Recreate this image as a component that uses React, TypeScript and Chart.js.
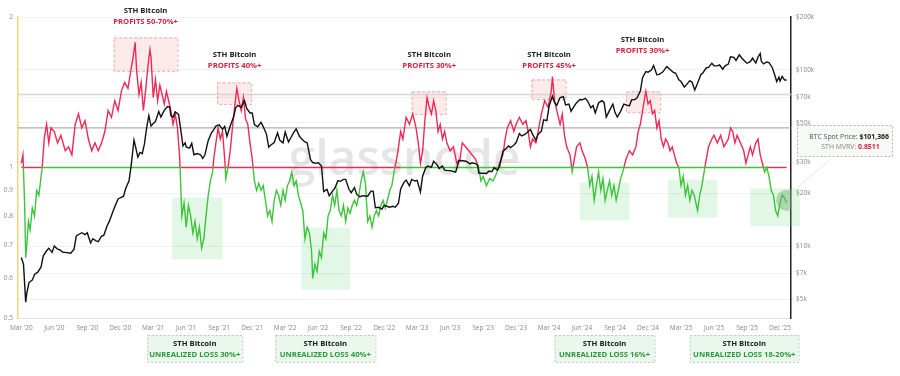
import React, { useEffect, useRef } from "react";
import { Chart, registerables } from "chart.js";
Chart.register(...registerables);

// x = months since 1 Mar 2020
const X_TICK_MONTHS = [0, 3, 6, 9, 12, 15, 18, 21, 24, 27, 30, 33, 36, 39, 42, 45, 48, 51, 54, 57, 60, 63, 66, 69];
const X_TICK_LABELS = ["Mar '20", "Jun '20", "Sep '20", "Dec '20", "Mar '21", "Jun '21", "Sep '21", "Dec '21", "Mar '22", "Jun '22", "Sep '22", "Dec '22", "Mar '23", "Jun '23", "Sep '23", "Dec '23", "Mar '24", "Jun '24", "Sep '24", "Dec '24", "Mar '25", "Jun '25", "Sep '25", "Dec '25"];
const MVRV_TICKS = [0.5, 0.6, 0.7, 0.8, 0.9, 1, 2];
const MVRV_TICK_LABELS = ["0.5", "0.6", "0.7", "0.8", "0.9", "1", "2"];
const PRICE_TICKS = [5000, 7000, 10000, 20000, 30000, 50000, 70000, 100000, 200000];
const PRICE_TICK_LABELS = ["$5k", "$7k", "$10k", "$20k", "$30k", "$50k", "$70k", "$100k", "$200k"];

// STH MVRV [month, value]
const MVRV: [number, number][] = [
  [0, 1.02], [0.15, 1.06], [0.3, 0.85], [0.4, 0.66], [0.5, 0.7], [0.65, 0.78], [0.8, 0.75], [1.0, 0.83], [1.2, 0.8], [1.4, 0.9], [1.6, 0.88], [1.8, 0.96], [1.9, 1.0],
  [2.1, 1.15], [2.3, 1.22], [2.5, 1.12], [2.7, 1.2], [3.0, 1.18], [3.3, 1.12], [3.6, 1.16], [4.0, 1.08], [4.3, 1.1], [4.6, 1.06], [4.9, 1.22], [5.2, 1.28], [5.5, 1.2], [5.8, 1.24],
  [6.1, 1.14], [6.4, 1.08], [6.7, 1.12], [7.0, 1.08], [7.3, 1.12], [7.6, 1.18], [7.9, 1.3], [8.2, 1.26], [8.5, 1.36], [8.8, 1.3], [9.1, 1.42], [9.4, 1.48], [9.7, 1.44],
  [10.0, 1.58], [10.2, 1.68], [10.35, 1.78], [10.5, 1.55], [10.7, 1.4], [10.9, 1.48], [11.1, 1.3], [11.3, 1.42], [11.5, 1.58], [11.7, 1.72], [11.8, 1.66], [12.0, 1.38],
  [12.2, 1.5], [12.4, 1.36], [12.6, 1.46], [12.8, 1.4], [13.0, 1.34], [13.2, 1.42], [13.4, 1.36], [13.6, 1.3], [13.8, 1.22], [14.0, 1.28], [14.2, 1.2], [14.4, 1.05],
  [14.5, 0.92], [14.6, 0.8], [14.8, 0.85], [15.0, 0.76], [15.2, 0.84], [15.4, 0.8], [15.6, 0.74], [15.8, 0.78], [16.0, 0.72], [16.2, 0.76], [16.4, 0.69], [16.6, 0.72],
  [16.8, 0.8], [17.0, 0.88], [17.2, 0.94], [17.4, 0.98], [17.5, 1.04], [17.7, 1.12], [17.9, 1.2], [18.1, 1.14], [18.3, 1.18], [18.5, 1.04], [18.6, 0.95], [18.8, 1.0],
  [19.0, 1.08], [19.2, 1.2], [19.4, 1.32], [19.6, 1.44], [19.8, 1.36], [20.0, 1.3], [20.2, 1.38], [20.4, 1.25], [20.6, 1.22], [20.8, 1.12], [21.0, 1.04], [21.2, 0.94],
  [21.4, 0.9], [21.6, 0.93], [21.8, 0.9], [22.0, 0.92], [22.2, 0.86], [22.4, 0.8], [22.6, 0.82], [22.8, 0.78], [23.0, 0.86], [23.2, 0.9], [23.4, 0.88], [23.6, 0.84],
  [23.8, 0.9], [24.0, 0.86], [24.2, 0.92], [24.4, 0.94], [24.6, 0.98], [24.8, 0.92], [25.0, 0.94], [25.2, 0.88], [25.4, 0.85], [25.6, 0.82], [25.8, 0.72], [26.0, 0.76],
  [26.2, 0.74], [26.4, 0.68], [26.5, 0.6], [26.7, 0.64], [26.9, 0.62], [27.1, 0.68], [27.3, 0.66], [27.5, 0.74], [27.7, 0.72], [27.9, 0.8], [28.1, 0.82], [28.3, 0.88],
  [28.5, 0.84], [28.7, 0.9], [28.9, 0.82], [29.1, 0.8], [29.3, 0.84], [29.5, 0.78], [29.7, 0.83], [29.9, 0.81], [30.1, 0.84], [30.3, 0.86], [30.5, 0.84], [30.7, 0.88],
  [30.9, 0.94], [31.1, 0.98], [31.3, 0.93], [31.5, 0.78], [31.7, 0.8], [31.9, 0.76], [32.1, 0.8], [32.3, 0.82], [32.5, 0.8], [32.7, 0.84], [32.9, 0.86], [33.1, 0.83],
  [33.3, 0.86], [33.5, 0.9], [33.7, 0.92], [33.9, 0.98], [34.2, 1.06], [34.5, 1.18], [34.7, 1.14], [35.0, 1.26], [35.3, 1.22], [35.6, 1.28], [35.9, 1.2], [36.1, 1.12],
  [36.3, 1.02], [36.5, 1.08], [36.7, 1.24], [36.9, 1.38], [37.1, 1.32], [37.3, 1.28], [37.5, 1.36], [37.7, 1.3], [37.9, 1.18], [38.1, 1.22], [38.3, 1.14], [38.5, 1.18],
  [38.7, 1.12], [39.0, 1.08], [39.3, 1.1], [39.6, 1.02], [39.9, 1.04], [40.1, 1.12], [40.4, 1.1], [40.7, 1.08], [41.0, 1.06], [41.3, 1.04], [41.6, 1.0], [41.8, 0.94],
  [42.0, 0.96], [42.3, 0.92], [42.6, 0.95], [42.9, 0.94], [43.2, 0.97], [43.5, 1.02], [43.8, 1.06], [44.0, 1.14], [44.2, 1.2], [44.5, 1.24], [44.8, 1.18], [45.0, 1.22],
  [45.3, 1.26], [45.6, 1.22], [45.9, 1.24], [46.1, 1.18], [46.3, 1.1], [46.5, 1.14], [46.8, 1.12], [47.0, 1.18], [47.3, 1.28], [47.6, 1.36], [47.9, 1.32], [48.2, 1.42],
  [48.3, 1.52], [48.5, 1.36], [48.7, 1.3], [49.0, 1.22], [49.2, 1.28], [49.4, 1.16], [49.6, 1.1], [49.9, 1.06], [50.1, 0.98], [50.3, 1.04], [50.5, 1.1], [50.8, 1.12],
  [51.0, 1.08], [51.3, 1.04], [51.5, 1.0], [51.7, 0.92], [51.9, 0.96], [52.1, 0.86], [52.3, 0.92], [52.5, 0.98], [52.7, 0.9], [52.9, 0.95], [53.1, 0.86], [53.3, 0.9],
  [53.5, 0.94], [53.7, 0.88], [53.9, 0.92], [54.1, 0.86], [54.3, 0.9], [54.5, 0.95], [54.7, 0.98], [55.0, 1.04], [55.3, 1.08], [55.6, 1.06], [55.9, 1.1], [56.1, 1.18],
  [56.3, 1.22], [56.5, 1.3], [56.7, 1.38], [56.8, 1.42], [57.0, 1.34], [57.2, 1.36], [57.4, 1.28], [57.6, 1.3], [57.8, 1.2], [58.0, 1.24], [58.2, 1.14], [58.4, 1.1],
  [58.6, 1.14], [58.8, 1.12], [59.0, 1.08], [59.2, 1.1], [59.4, 1.06], [59.6, 1.02], [59.8, 1.0], [60.0, 0.92], [60.2, 0.96], [60.4, 0.88], [60.6, 0.92], [60.8, 0.86],
  [61.0, 0.9], [61.2, 0.88], [61.5, 0.82], [61.7, 0.88], [61.9, 0.92], [62.1, 0.98], [62.3, 1.04], [62.5, 1.1], [62.8, 1.14], [63.0, 1.16], [63.3, 1.12], [63.6, 1.16],
  [63.9, 1.1], [64.1, 1.12], [64.3, 1.14], [64.5, 1.2], [64.7, 1.18], [64.9, 1.12], [65.1, 1.16], [65.4, 1.12], [65.7, 1.08], [65.9, 1.02], [66.1, 1.06], [66.3, 1.1],
  [66.5, 1.06], [66.8, 1.12], [67.0, 1.14], [67.2, 1.06], [67.4, 1.02], [67.6, 0.98], [67.8, 1.0], [68.0, 0.96], [68.2, 0.9], [68.4, 0.88], [68.6, 0.82], [68.8, 0.8],
  [69.0, 0.85], [69.2, 0.88], [69.4, 0.87], [69.6, 0.85],
];

// BTC price [month, $k]
const PRICE: [number, number][] = [
  [0, 8.6], [0.2, 7.9], [0.4, 4.8], [0.5, 5.4], [0.7, 6.2], [1, 6.4], [1.2, 6.9], [1.5, 7.1], [1.8, 7.6], [2, 8.8], [2.3, 9.4], [2.5, 9.7], [2.8, 9.2], [3, 10.0],
  [3.3, 9.6], [3.5, 9.5], [3.8, 9.2], [4, 9.2], [4.5, 9.1], [4.8, 9.6], [5, 11.4], [5.3, 11.7], [5.5, 11.9], [5.8, 11.6], [6, 11.9], [6.3, 10.4], [6.5, 11.0],
  [6.8, 10.7], [7, 10.6], [7.3, 11.4], [7.5, 11.5], [7.8, 13.0], [8, 13.8], [8.3, 15.5], [8.5, 16.7], [8.8, 18.5], [9, 18.8], [9.3, 19.2], [9.5, 21.3], [9.8, 23.5],
  [10, 29.0], [10.25, 40.0], [10.4, 36.5], [10.6, 32.0], [10.8, 34.0], [11, 33.5], [11.2, 38.0], [11.4, 47.0], [11.6, 55.0], [11.8, 48.0], [12, 49.6], [12.2, 51.0],
  [12.5, 58.0], [12.7, 54.0], [13, 59.0], [13.3, 62.0], [13.5, 61.5], [13.6, 55.0], [13.8, 54.0], [14, 57.8], [14.3, 56.0], [14.5, 46.0], [14.7, 37.0], [14.9, 38.5],
  [15, 36.5], [15.3, 36.0], [15.5, 38.3], [15.7, 33.0], [16, 33.5], [16.3, 33.0], [16.5, 31.5], [16.7, 33.0], [17, 39.8], [17.3, 44.0], [17.5, 45.9], [17.7, 48.0],
  [18, 48.8], [18.3, 46.0], [18.5, 47.8], [18.7, 42.0], [19, 48.1], [19.3, 54.0], [19.5, 60.9], [19.7, 63.0], [20, 61.3], [20.3, 67.0], [20.5, 60.4], [20.8, 57.0],
  [21, 57.0], [21.2, 49.0], [21.5, 47.6], [21.8, 50.5], [22, 47.7], [22.3, 43.1], [22.5, 36.5], [22.7, 37.5], [23, 38.7], [23.3, 44.0], [23.5, 40.0], [23.8, 38.5],
  [24, 44.4], [24.3, 39.0], [24.5, 41.1], [24.8, 44.5], [25, 46.3], [25.3, 42.0], [25.5, 40.5], [25.8, 39.0], [26, 38.5], [26.3, 31.0], [26.5, 29.8], [26.8, 29.5],
  [27, 29.8], [27.3, 28.5], [27.5, 20.4], [27.8, 21.0], [28, 19.3], [28.3, 20.5], [28.5, 21.2], [28.8, 23.5], [29, 23.3], [29.3, 23.9], [29.5, 23.9], [29.8, 21.0],
  [30, 20.1], [30.3, 21.5], [30.5, 19.7], [30.8, 19.0], [31, 19.3], [31.5, 19.2], [31.8, 20.5], [32, 20.5], [32.2, 16.5], [32.5, 16.6], [32.8, 16.2], [33, 17.0],
  [33.5, 16.6], [33.8, 16.8], [34, 16.6], [34.3, 17.5], [34.5, 21.1], [34.8, 23.0], [35, 23.7], [35.3, 22.0], [35.5, 23.9], [35.8, 23.4], [36, 23.6], [36.3, 20.3],
  [36.5, 25.0], [36.8, 28.0], [37, 28.5], [37.3, 28.0], [37.5, 30.3], [37.8, 29.0], [38, 27.6], [38.3, 28.5], [38.5, 27.0], [38.8, 26.8], [39, 26.8], [39.5, 26.3],
  [39.8, 30.5], [40, 30.6], [40.3, 30.4], [40.5, 30.2], [40.8, 29.3], [41, 29.7], [41.3, 29.4], [41.5, 28.7], [41.6, 26.0], [42, 25.9], [42.3, 25.8], [42.5, 26.6],
  [42.8, 26.5], [43, 27.9], [43.3, 27.0], [43.5, 28.5], [43.8, 34.5], [44, 35.4], [44.3, 37.0], [44.5, 36.2], [44.8, 37.5], [45, 38.7], [45.3, 43.5], [45.5, 42.2],
  [45.8, 43.0], [46, 44.2], [46.3, 46.0], [46.5, 43.1], [46.8, 40.0], [47, 43.1], [47.3, 45.0], [47.5, 52.1], [47.8, 51.5], [48, 62.4], [48.3, 71.0], [48.5, 65.3],
  [48.7, 63.0], [49, 69.7], [49.3, 70.5], [49.5, 63.4], [49.8, 64.0], [50, 58.3], [50.3, 62.5], [50.5, 65.2], [50.8, 68.0], [51, 67.7], [51.3, 69.0], [51.5, 66.6],
  [51.8, 61.0], [52, 62.8], [52.2, 57.0], [52.5, 65.0], [52.8, 67.0], [53, 65.4], [53.2, 54.0], [53.5, 59.0], [53.8, 64.0], [54, 57.3], [54.2, 54.0], [54.5, 58.2],
  [54.8, 64.0], [55, 63.3], [55.3, 62.5], [55.5, 67.6], [55.8, 68.0], [56, 69.5], [56.3, 76.0], [56.5, 90.5], [56.8, 98.0], [57, 97.2], [57.3, 100.0], [57.5, 106.0],
  [57.8, 94.0], [58, 94.4], [58.3, 97.0], [58.5, 100.5], [58.7, 104.5], [59, 100.6], [59.3, 97.0], [59.5, 96.1], [59.8, 88.0], [60, 86.0], [60.3, 80.0], [60.5, 82.6],
  [60.8, 87.0], [61, 85.2], [61.25, 77.0], [61.5, 84.0], [61.8, 94.0], [62, 96.5], [62.3, 103.0], [62.5, 103.5], [62.8, 109.0], [63, 105.6], [63.3, 105.5],
  [63.5, 106.8], [63.8, 101.0], [64, 105.7], [64.3, 108.0], [64.5, 119.0], [64.8, 118.0], [65, 113.3], [65.3, 122.0], [65.5, 117.4], [65.8, 112.0], [66, 109.2],
  [66.3, 111.5], [66.5, 116.8], [66.8, 109.5], [67, 118.6], [67.2, 124.0], [67.3, 112.0], [67.5, 108.2], [67.8, 111.0], [68, 110.0], [68.3, 103.0], [68.5, 94.5],
  [68.7, 86.0], [68.9, 91.0], [69, 86.5], [69.2, 92.0], [69.4, 88.0], [69.6, 87.5],
];

// colour changes of the MVRV = 1 baseline
const BASE_BREAKS = [0, 1.9, 14.5, 34.5, 67.8, 69.6];
const BASE_COLORS = ["red", "green", "red", "green", "red"];
const REF_LEVELS = [1.4, 1.2];

// annotations: [x0, x1, yTop, yBottom] (months, MVRV)
const PROFIT_BOXES = [
  [8.4, 14.2, 1.82, 1.56],
  [17.8, 20.9, 1.48, 1.34],
  [35.5, 38.6, 1.42, 1.28],
  [46.4, 49.5, 1.5, 1.37],
  [55.0, 58.1, 1.42, 1.29],
];
const PROFIT_LABEL_X = [11.3, 19.4, 37.1, 48.0, 56.5];
const PROFIT_LABEL_Y = [1.96, 1.6, 1.6, 1.6, 1.71];
const PROFIT_TEXTS = ["PROFITS 50-70%+", "PROFITS 40%+", "PROFITS 30%+", "PROFITS 45%+", "PROFITS 30%+"];
const LOSS_BOXES = [
  [13.7, 18.3, 0.87, 0.655],
  [25.5, 29.9, 0.758, 0.57],
  [50.8, 55.3, 0.933, 0.784],
  [58.8, 63.3, 0.946, 0.794],
  [66.3, 70.8, 0.908, 0.762],
];
const LOSS_LABEL_X = [[11.45, 20.1], [23.1, 32.2], [48.5, 57.6], [60.8, 70.7]];
const LOSS_TEXTS = ["UNREALIZED LOSS 30%+", "UNREALIZED LOSS 40%+", "UNREALIZED LOSS 16%+", "UNREALIZED LOSS 18-20%+"];
const SPOT_PRICE = "$101,366";
const SPOT_MVRV = "0.8511";
const MARKER: [number, number] = [69.6, 0.86];

const RED = "#ec2a55";
const GREEN = "#3cc43a";
const FONT = "'Open Sans', 'Noto Sans', sans-serif";

export default function App() {
  const ref = useRef<HTMLCanvasElement>(null);
  useEffect(() => {
    const canvas = ref.current!;
    const overlay = {
      id: "overlay",
      beforeDatasetsDraw(chart: any) {
        const { ctx, chartArea: a, scales } = chart;
        const x = scales.x, y = scales.y;
        ctx.save();
        // watermark
        ctx.font = `600 48px ${FONT}`;
        ctx.fillStyle = "rgba(0,0,0,0.1)";
        ctx.textAlign = "center";
        ctx.textBaseline = "alphabetic";
        ctx.fillText("glassnode", (a.left + a.right) / 2, a.top + (a.bottom - a.top) * 0.525);
        // profit boxes
        PROFIT_BOXES.forEach(([x0, x1, t, b]) => {
          const px0 = x.getPixelForValue(x0), px1 = x.getPixelForValue(x1);
          const py0 = y.getPixelForValue(t), py1 = y.getPixelForValue(b);
          ctx.fillStyle = "rgba(240,110,110,0.14)";
          ctx.fillRect(px0, py0, px1 - px0, py1 - py0);
          ctx.setLineDash([3, 2]);
          ctx.strokeStyle = "rgba(225,110,110,0.7)";
          ctx.lineWidth = 0.8;
          ctx.strokeRect(px0 + 0.5, py0 + 0.5, px1 - px0, py1 - py0);
          ctx.setLineDash([]);
        });
        // loss boxes
        LOSS_BOXES.forEach(([x0, x1, t, b]) => {
          const px0 = x.getPixelForValue(x0), px1 = x.getPixelForValue(x1);
          const py0 = y.getPixelForValue(t), py1 = y.getPixelForValue(b);
          ctx.fillStyle = "rgba(110,215,130,0.2)";
          ctx.fillRect(px0, py0, px1 - px0, py1 - py0);
        });
        // faint pointer inside plot
        ctx.strokeStyle = "rgba(0,0,0,0.08)";
        ctx.lineWidth = 1;
        ctx.beginPath();
        ctx.moveTo(x.getPixelForValue(64.9), y.getPixelForValue(1.2));
        ctx.lineTo(x.getPixelForValue(67.2), y.getPixelForValue(1.07));
        ctx.stroke();
        ctx.restore();
      },
      afterDraw(chart: any) {
        const { ctx, chartArea: a, scales } = chart;
        const x = scales.x, y = scales.y;
        ctx.save();
        ctx.textAlign = "center";
        ctx.textBaseline = "middle";
        PROFIT_TEXTS.forEach((txt, i) => {
          const cx = x.getPixelForValue(PROFIT_LABEL_X[i]);
          const cy = y.getPixelForValue(PROFIT_LABEL_Y[i]);
          ctx.font = `bold 7.7px ${FONT}`;
          ctx.fillStyle = "#222";
          ctx.fillText("STH Bitcoin", cx, cy - 11);
          ctx.fillStyle = "#d81e3c";
          ctx.fillText(txt, cx, cy);
        });
        LOSS_TEXTS.forEach((txt, i) => {
          const px0 = x.getPixelForValue(LOSS_LABEL_X[i][0]);
          const px1 = x.getPixelForValue(LOSS_LABEL_X[i][1]);
          const top = a.bottom + 17, h = 27;
          ctx.fillStyle = "#eaf7ec";
          ctx.fillRect(px0, top, px1 - px0, h);
          ctx.setLineDash([2, 2]);
          ctx.strokeStyle = "#b8b8b8";
          ctx.lineWidth = 0.8;
          ctx.strokeRect(px0 + 0.5, top + 0.5, px1 - px0, h);
          ctx.setLineDash([]);
          const cx = (px0 + px1) / 2;
          ctx.font = `bold 7.7px ${FONT}`;
          ctx.fillStyle = "#222";
          ctx.fillText("STH Bitcoin", cx, top + 9);
          ctx.fillStyle = "#2a9a3a";
          ctx.fillText(txt, cx, top + 20);
        });
        // pointer line
        ctx.strokeStyle = "rgba(0,0,0,0.1)";
        ctx.lineWidth = 1;
        ctx.beginPath();
        ctx.moveTo(a.right + 6, y.getPixelForValue(0.91));
        ctx.lineTo(a.right + 40, y.getPixelForValue(1.04));
        ctx.stroke();
        // spot box
        const bx = a.right + 6, by = a.top + 108, bw = 95, bh = 31;
        ctx.fillStyle = "rgba(244,250,245,0.95)";
        ctx.fillRect(bx, by, bw, bh);
        ctx.setLineDash([2, 2]);
        ctx.strokeStyle = "#b0b0b0";
        ctx.strokeRect(bx + 0.5, by + 0.5, bw, bh);
        ctx.setLineDash([]);
        ctx.textAlign = "left";
        const fs = 6.9;
        const l1 = "BTC Spot Price: ";
        ctx.font = `${fs}px ${FONT}`;
        const w1 = ctx.measureText(l1).width;
        ctx.font = `bold ${fs}px ${FONT}`;
        const w2 = ctx.measureText(SPOT_PRICE).width;
        let sx = bx + bw - 3 - w1 - w2;
        ctx.font = `${fs}px ${FONT}`;
        ctx.fillStyle = "#555";
        ctx.fillText(l1, sx, by + 12);
        ctx.font = `bold ${fs}px ${FONT}`;
        ctx.fillStyle = "#222";
        ctx.fillText(SPOT_PRICE, sx + w1, by + 12);
        const l2 = "STH MVRV: ";
        ctx.font = `${fs}px ${FONT}`;
        const w3 = ctx.measureText(l2).width;
        ctx.font = `bold ${fs}px ${FONT}`;
        const w4 = ctx.measureText(SPOT_MVRV).width;
        sx = bx + bw / 2 - (w3 + w4) / 2 + 6;
        ctx.font = `${fs}px ${FONT}`;
        ctx.fillStyle = "#888";
        ctx.fillText(l2, sx, by + 22);
        ctx.font = `bold ${fs}px ${FONT}`;
        ctx.fillStyle = "#d81e3c";
        ctx.fillText(SPOT_MVRV, sx + w3, by + 22);
        ctx.restore();
      },
    };

    const mvrvColor = (c: any) => {
      const chart = c.chart;
      const { chartArea, scales } = chart;
      if (!chartArea) return RED;
      const y1 = scales.y.getPixelForValue(1);
      const g = chart.ctx.createLinearGradient(0, chartArea.top, 0, chartArea.bottom);
      const t = Math.min(1, Math.max(0, (y1 - chartArea.top) / (chartArea.bottom - chartArea.top)));
      g.addColorStop(0, RED);
      g.addColorStop(t, RED);
      g.addColorStop(t, GREEN);
      g.addColorStop(1, GREEN);
      return g;
    };

    const chart = new Chart(canvas, {
      type: "line",
      data: {
        datasets: [
          {
            label: "marker",
            type: "scatter",
            data: [{ x: MARKER[0], y: MARKER[1] }],
            yAxisID: "y",
            pointRadius: 10.5,
            pointBackgroundColor: "rgba(110,175,110,0.45)",
            pointBorderWidth: 0,
            order: 0,
          } as any,
          {
            label: "BTC Price",
            data: PRICE.map(([m, p]) => ({ x: m, y: p * 1000 })),
            yAxisID: "y1",
            borderColor: "#111",
            borderWidth: 1.4,
            pointRadius: 0,
            tension: 0,
            order: 1,
          },
          {
            label: "STH MVRV",
            data: MVRV.map(([m, v]) => ({ x: m, y: v })),
            yAxisID: "y",
            borderColor: mvrvColor,
            borderWidth: 1.4,
            pointRadius: 0,
            tension: 0,
            order: 2,
          },
          {
            label: "baseline",
            data: BASE_BREAKS.map((m) => ({ x: m, y: 1 })),
            yAxisID: "y",
            borderWidth: 1.4,
            pointRadius: 0,
            segment: { borderColor: (c: any) => (BASE_COLORS[c.p0DataIndex] === "red" ? RED : GREEN) },
            borderColor: GREEN,
            order: 3,
          },
          {
            label: "ref14",
            data: [{ x: -0.3, y: REF_LEVELS[0] }, { x: 70, y: REF_LEVELS[0] }],
            yAxisID: "y",
            borderColor: "#d4d4d4",
            borderWidth: 1.5,
            pointRadius: 0,
            order: 4,
          },
          {
            label: "ref12",
            data: [{ x: -0.3, y: REF_LEVELS[1] }, { x: 70, y: REF_LEVELS[1] }],
            yAxisID: "y",
            borderColor: "#9a9a9a",
            borderWidth: 1,
            pointRadius: 0,
            order: 5,
          },
        ],
      },
      options: {
        animation: false,
        responsive: true,
        maintainAspectRatio: false,
        layout: { padding: { top: 17, left: 0, right: 0, bottom: 0 } },
        plugins: { legend: { display: false }, tooltip: { enabled: false } },
        scales: {
          x: {
            type: "linear",
            min: -0.3,
            max: 70,
            grid: { display: false, drawTicks: false },
            border: { color: "#e4e4e4" },
            afterBuildTicks: (s: any) => { s.ticks = X_TICK_MONTHS.map((v) => ({ value: v })); },
            afterFit: (s: any) => { s.height = 58; },
            ticks: {
              autoSkip: false,
              maxRotation: 0,
              padding: 6,
              color: "#888",
              font: { size: 6.5, family: FONT },
              callback: (_v: any, i: number) => X_TICK_LABELS[i],
            },
          },
          y: {
            type: "logarithmic",
            position: "left",
            min: 0.5,
            max: 2,
            grid: { display: false, drawTicks: false },
            border: { color: "#f3d37c", width: 1.5 },
            afterBuildTicks: (s: any) => { s.ticks = MVRV_TICKS.map((v) => ({ value: v })); },
            afterFit: (s: any) => { s.width = 18; },
            ticks: {
              padding: 5,
              color: "#888",
              font: { size: 6.5, family: FONT },
              callback: (_v: any, i: number) => MVRV_TICK_LABELS[i],
            },
          },
          y1: {
            type: "logarithmic",
            position: "right",
            min: 3900,
            max: 200000,
            grid: { color: "#f1f1f1", drawTicks: false },
            border: { color: "#222", width: 1.5 },
            afterBuildTicks: (s: any) => { s.ticks = PRICE_TICKS.map((v) => ({ value: v })); },
            afterFit: (s: any) => { s.width = 109; },
            ticks: {
              padding: 5,
              color: "#888",
              font: { size: 6.5, family: FONT },
              callback: (_v: any, i: number) => PRICE_TICK_LABELS[i],
            },
          },
        },
      } as any,
      plugins: [overlay],
    });
    return () => chart.destroy();
  }, []);
  return (
    <div style={{ position: "fixed", left: 0, top: 0, width: 900, height: 376, background: "#fff" }}>
      <canvas ref={ref} />
    </div>
  );
}
